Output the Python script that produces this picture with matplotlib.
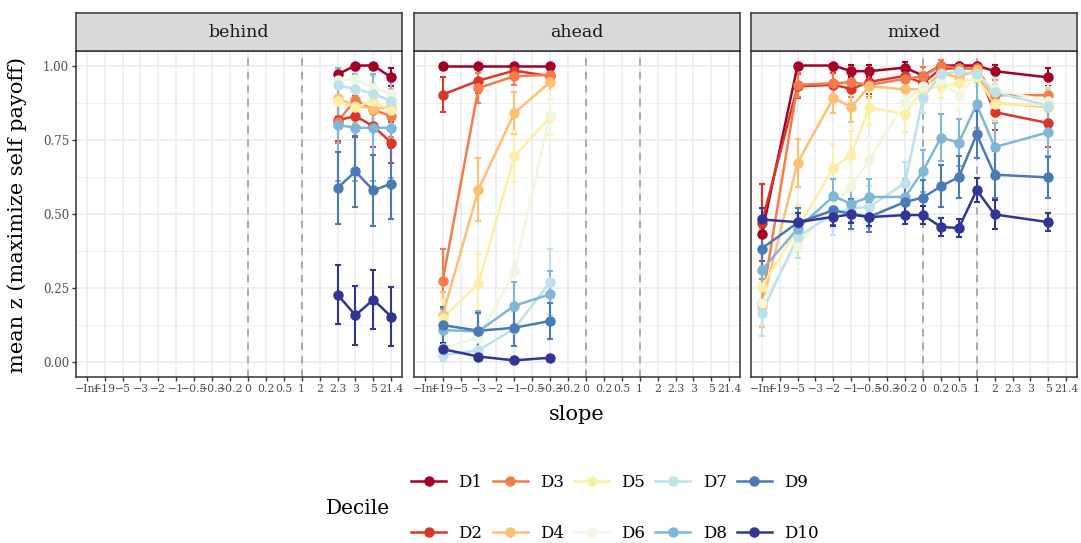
import matplotlib
matplotlib.use("Agg")
import matplotlib.pyplot as plt
from matplotlib.lines import Line2D

plt.rcParams['font.family'] = ['DejaVu Serif']

# categorias do eixo x (discreto)
slopes = ['−Inf', '−19', '−5', '−3', '−2', '−1', '−0.5', '−0.3', '−0.2', '0',
          '0.2', '0.5', '1', '2', '2.3', '3', '5', '21.4']
deciles = ['D1', 'D2', 'D3', 'D4', 'D5', 'D6', 'D7', 'D8', 'D9', 'D10']
colors = ['#a50026', '#da372a', '#f67b4a', '#fdbf71', '#feeea5',
          '#eef8df', '#bde2ee', '#80b7d6', '#4a7bb7', '#313695']

# painel "behind"
behind_x = ['2.3', '3', '5', '21.4']
behind_mean = [
    [0.97, 1.00, 1.00, 0.96],
    [0.815, 0.83, 0.795, 0.74],
    [0.81, 0.885, 0.85, 0.83],
    [0.89, 0.865, 0.855, 0.86],
    [0.88, 0.86, 0.88, 0.85],
    [0.95, 0.955, 0.925, 0.905],
    [0.933, 0.921, 0.905, 0.88],
    [0.80, 0.79, 0.79, 0.79],
    [0.587, 0.643, 0.579, 0.602],
    [0.228, 0.158, 0.211, 0.153],
]
behind_err = [
    [0.03, 0.0, 0.0, 0.03],
    [0.07, 0.07, 0.07, 0.07],
    [0.07, 0.07, 0.07, 0.07],
    [0.06, 0.06, 0.06, 0.06],
    [0.06, 0.06, 0.06, 0.06],
    [0.05, 0.05, 0.05, 0.05],
    [0.06, 0.06, 0.06, 0.06],
    [0.19, 0.18, 0.18, 0.17],
    [0.12, 0.12, 0.12, 0.12],
    [0.10, 0.10, 0.10, 0.10],
]

# painel "ahead"
ahead_x = ['−19', '−3', '−1', '−0.3']
ahead_mean = [
    [1.0, 1.0, 1.0, 1.0],
    [0.902, 0.949, 0.983, 0.964],
    [0.273, 0.924, 0.964, 0.969],
    [0.158, 0.582, 0.84, 0.944],
    [0.15, 0.264, 0.694, 0.826],
    [0.048, 0.082, 0.306, 0.834],
    [0.024, 0.04, 0.113, 0.27],
    [0.108, 0.104, 0.19, 0.229],
    [0.125, 0.106, 0.116, 0.139],
    [0.044, 0.019, 0.006, 0.015],
]
ahead_err = [
    [0.0, 0.0, 0.0, 0.0],
    [0.06, 0.04, 0.02, 0.02],
    [0.11, 0.05, 0.03, 0.03],
    [0.08, 0.106, 0.07, 0.03],
    [0.06, 0.10, 0.085, 0.06],
    [0.03, 0.05, 0.10, 0.08],
    [0.02, 0.03, 0.06, 0.11],
    [0.07, 0.07, 0.08, 0.08],
    [0.06, 0.06, 0.06, 0.06],
    [0.02, 0.01, 0.01, 0.01],
]

# painel "mixed"
mixed_x = ['−Inf', '−5', '−2', '−1', '−0.5', '−0.2', '0', '0.2', '0.5', '1', '2', '5']
mixed_mean = [
    [0.431, 1.0, 1.0, 0.981, 0.981, 0.993, 0.966, 1.0, 1.0, 1.0, 0.981, 0.96],
    [0.47, 0.93, 0.935, 0.921, 0.945, 0.965, 0.94, 0.99, 0.99, 0.99, 0.843, 0.806],
    [0.2, 0.935, 0.94, 0.944, 0.935, 0.955, 0.964, 1.0, 0.99, 0.99, 0.90, 0.90],
    [0.19, 0.672, 0.891, 0.86, 0.93, 0.92, 0.92, 0.975, 0.96, 0.985, 0.874, 0.86],
    [0.254, 0.45, 0.655, 0.70, 0.858, 0.837, 0.92, 0.93, 0.94, 0.96, 0.87, 0.866],
    [0.2, 0.394, 0.53, 0.594, 0.68, 0.877, 0.93, 0.95, 0.90, 0.97, 0.92, 0.88],
    [0.167, 0.422, 0.5, 0.52, 0.523, 0.604, 0.89, 0.97, 0.98, 0.97, 0.91, 0.865],
    [0.31, 0.45, 0.559, 0.534, 0.557, 0.557, 0.644, 0.757, 0.74, 0.869, 0.725, 0.775],
    [0.383, 0.47, 0.512, 0.50, 0.49, 0.54, 0.555, 0.593, 0.624, 0.768, 0.632, 0.623],
    [0.481, 0.472, 0.49, 0.498, 0.489, 0.496, 0.496, 0.456, 0.452, 0.58, 0.498, 0.472],
]
mixed_err = [
    [0.17, 0, 0, 0.02, 0.02, 0.02, 0.03, 0, 0, 0, 0.02, 0.03],
    [0.13, 0.04, 0.04, 0.05, 0.04, 0.03, 0.04, 0.02, 0.02, 0.02, 0.06, 0.08],
    [0.08, 0.04, 0.04, 0.05, 0.04, 0.03, 0.03, 0.02, 0.02, 0.02, 0.05, 0.05],
    [0.07, 0.08, 0.05, 0.05, 0.04, 0.04, 0.04, 0.03, 0.03, 0.02, 0.06, 0.06],
    [0.07, 0.08, 0.08, 0.08, 0.06, 0.06, 0.05, 0.04, 0.04, 0.03, 0.06, 0.06],
    [0.07, 0.08, 0.08, 0.08, 0.08, 0.06, 0.05, 0.04, 0.05, 0.03, 0.05, 0.06],
    [0.08, 0.07, 0.07, 0.07, 0.07, 0.07, 0.05, 0.04, 0.03, 0.03, 0.05, 0.06],
    [0.07, 0.07, 0.06, 0.06, 0.06, 0.06, 0.07, 0.08, 0.08, 0.08, 0.08, 0.08],
    [0.07, 0.05, 0.05, 0.05, 0.05, 0.05, 0.06, 0.07, 0.07, 0.08, 0.08, 0.07],
    [0.04, 0.03, 0.03, 0.03, 0.03, 0.03, 0.03, 0.03, 0.03, 0.04, 0.05, 0.03],
]

panels = [('behind', behind_x, behind_mean, behind_err),
          ('ahead', ahead_x, ahead_mean, ahead_err),
          ('mixed', mixed_x, mixed_mean, mixed_err)]

yticks = [0.0, 0.25, 0.5, 0.75, 1.0]
ytick_labels = ['0.00', '0.25', '0.50', '0.75', '1.00']
dash_at = ['0', '1']

W, H = 1081, 543
fig = plt.figure(figsize=(W / 100, H / 100), dpi=100)

panel_left = [76, 414, 751]
panel_w = 326
top_px, bot_px, strip_px = 50.7, 377, 12.7


def draw_panel(ax, xs, means, errs, first):
    pos = [slopes.index(s) for s in xs]
    ax.set_xlim(-0.6, len(slopes) - 0.4)
    ax.set_ylim(-0.05, 1.05)
    ax.set_xticks(range(len(slopes)))
    ax.set_xticklabels(slopes)
    ax.set_yticks(yticks)
    ax.set_yticks([0.125, 0.375, 0.625, 0.875], minor=True)
    ax.set_xticks([], minor=True)
    ax.grid(True, which='major', color='#ebebeb', lw=1.1, zorder=0)
    ax.grid(True, which='minor', axis='y', color='#ebebeb', lw=0.55, zorder=0)
    ax.set_axisbelow(True)
    for s in dash_at:
        ax.axvline(slopes.index(s), color='#a3a3a3', lw=1.3, ls=(0, (4, 3.5)), zorder=1)
    if first:
        ax.set_yticklabels(ytick_labels)
        ax.tick_params(axis='y', length=3, width=1, color='#333333', labelsize=8.5,
                       labelcolor='#4d4d4d', pad=2, which='major')
    else:
        ax.tick_params(axis='y', length=0, labelleft=False, which='major')
    ax.tick_params(axis='y', which='minor', length=0)
    ax.tick_params(axis='x', length=3, width=1, color='#333333', labelsize=7.8,
                   labelcolor='#4d4d4d', pad=2)
    for sp in ax.spines.values():
        sp.set_color('#333333')
        sp.set_linewidth(1.1)
    # barras de erro, linhas e pontos
    for i in range(len(deciles)):
        ax.errorbar(pos, means[i], yerr=errs[i], fmt='none', ecolor=colors[i],
                    elinewidth=1.5, capsize=2, capthick=1.5, zorder=2 + i * 0.01)
    for i in range(len(deciles)):
        ax.plot(pos, means[i], color=colors[i], lw=1.8, zorder=3 + i * 0.01)
    for i in range(len(deciles)):
        ax.plot(pos, means[i], 'o', color=colors[i], ms=6.5, zorder=4 + i * 0.01)


for k, (name, xs, means, errs) in enumerate(panels):
    ax = fig.add_axes([panel_left[k] / W, 1 - bot_px / H, panel_w / W, (bot_px - top_px) / H])
    draw_panel(ax, xs, means, errs, k == 0)
    sax = fig.add_axes([panel_left[k] / W, 1 - top_px / H, panel_w / W, (top_px - strip_px) / H])
    sax.set_facecolor('#d9d9d9')
    sax.set_xticks([])
    sax.set_yticks([])
    for sp in sax.spines.values():
        sp.set_color('#333333')
        sp.set_linewidth(1.1)
    sax.text(0.5, 0.47, name, ha='center', va='center', fontsize=12.5, color='#1a1a1a',
             transform=sax.transAxes)

fig.text(17 / W, 1 - 215 / H, 'mean z (maximize self payoff)', rotation=90,
         ha='center', va='center', fontsize=15)
fig.text(577 / W, 1 - 415 / H, 'slope', ha='center', va='center', fontsize=15)

handles = [Line2D([], [], color=c, lw=1.8, marker='o', ms=6.5) for c in colors]
fig.legend(handles, deciles, ncol=5, loc='center left', bbox_to_anchor=(396 / W, 1 - 508 / H),
           frameon=False, fontsize=12, handlelength=2.1, handletextpad=0.75,
           columnspacing=0.6, labelspacing=2.05)
fig.text(358 / W, 1 - 508 / H, 'Decile', ha='center', va='center', fontsize=14.5)

fig.savefig('out.png', dpi=100)
